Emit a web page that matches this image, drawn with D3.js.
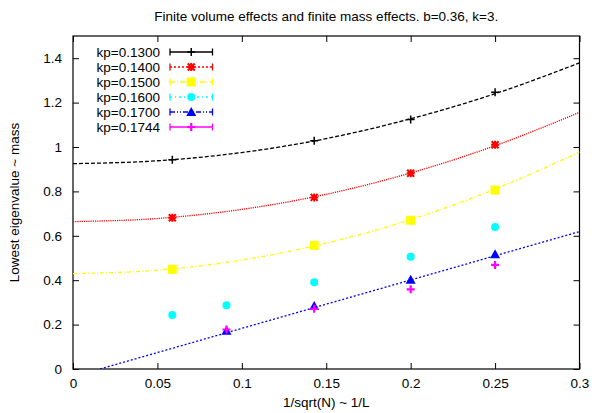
<!DOCTYPE html>
<html>
<head>
<meta charset="utf-8">
<script src="https://cdn.jsdelivr.net/npm/d3@7"></script>
<style>
  html, body { margin: 0; padding: 0; background: #fff; }
  svg { display: block; font-family: "Liberation Sans", Arial, sans-serif; }
</style>
</head>
<body>
<svg id="chart" width="592" height="413"></svg>
<script>
// ---- data ----
const titleText = "Finite volume effects and finite mass effects. b=0.36, k=3.";
const xLabel = "1/sqrt(N) ~ 1/L";
const yLabel = "Lowest eigenvalue ~ mass";
const xTicks = [0, 0.05, 0.1, 0.15, 0.2, 0.25, 0.3];
const xTickLabels = ["0", "0.05", "0.1", "0.15", "0.2", "0.25", "0.3"];
const yTicks = [0, 0.2, 0.4, 0.6, 0.8, 1.0, 1.2, 1.4];
const yTickLabels = ["0", "0.2", "0.4", "0.6", "0.8", "1", "1.2", "1.4"];

const seriesNames = ["kp=0.1300", "kp=0.1400", "kp=0.1500", "kp=0.1600", "kp=0.1700", "kp=0.1744"];
const seriesColors = ["#000000", "#ff0000", "#ffff00", "#00ffff", "#0000ff", "#ff00ff"];

const x130 = [1/17, 1/7, 1/5, 1/4];
const y130 = [0.943, 1.028, 1.124, 1.247];
const x140 = [1/17, 1/7, 1/5, 1/4];
const y140 = [0.681, 0.773, 0.882, 1.010];
const x150 = [1/17, 1/7, 1/5, 1/4];
const y150 = [0.449, 0.557, 0.670, 0.806];
const x160 = [1/17, 1/11, 1/7, 1/5, 1/4];
const y160 = [0.243, 0.287, 0.391, 0.506, 0.640];
const x170 = [1/11, 1/7, 1/5, 1/4];
const y170 = [0.172, 0.284, 0.402, 0.517];
const x1744 = [1/11, 1/7, 1/5, 1/4];
const y1744 = [0.178, 0.271, 0.359, 0.469];

// fit curves
const fitX = [0, 0.05, 0.1, 0.15, 0.2, 0.25, 0.3];
const fit130 = [0.925, 0.938, 0.975, 1.038, 1.127, 1.240, 1.379];
const fit140 = [0.664, 0.678, 0.719, 0.787, 0.883, 1.006, 1.156];
const fit150 = [0.430, 0.445, 0.491, 0.567, 0.673, 0.810, 0.978];
const fit170X = [0.016, 0.3];
const fit170 = [0.0, 0.619];

// ---- layout ----
const svg = d3.select("#chart");
const L = 73, R = 579.5, T = 36, B = 369;
const xs = d3.scaleLinear().domain([0, 0.3]).range([L, R]);
const ys = d3.scaleLinear().domain([0, 1.5]).range([B, T]);
const FS = 13.5;

svg.append("clipPath").attr("id", "clip").append("rect")
  .attr("x", L).attr("y", T).attr("width", R - L).attr("height", B - T);

svg.append("text").attr("x", (L + R) / 2).attr("y", 20.5).attr("text-anchor", "middle")
  .attr("font-size", FS).text(titleText);

const tickLen = 6;
const gBottom = svg.append("g").attr("transform", `translate(0,${B})`)
  .call(d3.axisBottom(xs).tickValues(xTicks).tickSize(-tickLen).tickPadding(9)
        .tickFormat((d, i) => xTickLabels[i]));
const gTop = svg.append("g").attr("transform", `translate(0,${T})`)
  .call(d3.axisTop(xs).tickValues(xTicks).tickSize(-tickLen).tickFormat(""));
const gLeft = svg.append("g").attr("transform", `translate(${L},0)`)
  .call(d3.axisLeft(ys).tickValues(yTicks).tickSize(-tickLen).tickPadding(11)
        .tickFormat((d, i) => yTickLabels[i]));
const gRight = svg.append("g").attr("transform", `translate(${R},0)`)
  .call(d3.axisRight(ys).tickValues(yTicks).tickSize(-tickLen).tickFormat(""));
[gBottom, gTop, gLeft, gRight].forEach(g => {
  g.select(".domain").remove();
  g.selectAll("line").attr("stroke", "#000").attr("stroke-width", 1);
  g.selectAll("text").attr("font-size", FS).attr("fill", "#000")
    .attr("font-family", "Liberation Sans, Arial, sans-serif");
});

svg.append("rect").attr("x", L).attr("y", T).attr("width", R - L).attr("height", B - T)
  .attr("fill", "none").attr("stroke", "#000").attr("stroke-width", 1.2);

svg.append("text").attr("x", (L + R) / 2).attr("y", 407).attr("text-anchor", "middle")
  .attr("font-size", FS).text(xLabel);
svg.append("text").attr("transform", `translate(19,${(T + B) / 2}) rotate(-90)`)
  .attr("text-anchor", "middle").attr("font-size", FS).text(yLabel);

const plot = svg.append("g").attr("clip-path", "url(#clip)");
const line = d3.line().x(d => xs(d[0])).y(d => ys(d[1])).curve(d3.curveMonotoneX);
const fits = [
  { fx: fitX, fy: fit130, color: seriesColors[0], dash: "4,2" },
  { fx: fitX, fy: fit140, color: seriesColors[1], dash: "1.2,1" },
  { fx: fitX, fy: fit150, color: seriesColors[2], dash: "4,2,1,2" },
  { fx: fit170X, fy: fit170, color: seriesColors[4], dash: "2,2" }
];
fits.forEach(f => {
  plot.append("path").datum(f.fx.map((v, i) => [v, f.fy[i]]))
    .attr("d", line).attr("fill", "none").attr("stroke", f.color)
    .attr("stroke-width", 1.3).attr("stroke-dasharray", f.dash);
});

function marker(g, type, cx, cy, color) {
  if (type === "plus") {
    g.append("path").attr("d", `M${cx-4},${cy}H${cx+4}M${cx},${cy-4}V${cy+4}`)
      .attr("stroke", color).attr("stroke-width", 1.5).attr("fill", "none");
  } else if (type === "thickplus") {
    g.append("path").attr("d", `M${cx-4},${cy}H${cx+4}M${cx},${cy-4}V${cy+4}`)
      .attr("stroke", color).attr("stroke-width", 2.2).attr("fill", "none");
  } else if (type === "star") {
    g.append("path").attr("d",
      `M${cx-4},${cy}H${cx+4}M${cx},${cy-4}V${cy+4}M${cx-3.5},${cy-3.5}L${cx+3.5},${cy+3.5}M${cx-3.5},${cy+3.5}L${cx+3.5},${cy-3.5}`)
      .attr("stroke", color).attr("stroke-width", 2).attr("fill", "none");
  } else if (type === "square") {
    g.append("rect").attr("x", cx - 4.5).attr("y", cy - 4.5).attr("width", 9).attr("height", 9)
      .attr("fill", color);
  } else if (type === "circle") {
    g.append("circle").attr("cx", cx).attr("cy", cy).attr("r", 4).attr("fill", color);
  } else if (type === "triangle") {
    g.append("path").attr("d", `M${cx},${cy-5}L${cx+5},${cy+4}L${cx-5},${cy+4}Z`).attr("fill", color);
  }
}
const markerTypes = ["plus", "star", "square", "circle", "triangle", "thickplus"];
const dataXs = [x130, x140, x150, x160, x170, x1744];
const dataYs = [y130, y140, y150, y160, y170, y1744];
const legendDash = ["", "2,2", "5,2,1,2", "2,3,1,3", "5,2,1,2,1,2", ""];

const pts = svg.append("g");
dataXs.forEach((arr, s) => {
  arr.forEach((v, i) => marker(pts, markerTypes[s], xs(v), ys(dataYs[s][i]), seriesColors[s]));
});

const leg = svg.append("g");
seriesNames.forEach((name, i) => {
  const cy = 52 + i * 15;
  leg.append("text").attr("x", 160).attr("y", cy + 4.5).attr("text-anchor", "end")
    .attr("font-size", FS).text(name);
  const c = seriesColors[i];
  leg.append("line").attr("x1", 170).attr("x2", 212.5).attr("y1", cy).attr("y2", cy)
    .attr("stroke", c).attr("stroke-width", 1.3).attr("stroke-dasharray", legendDash[i] || null);
  leg.append("line").attr("x1", 170).attr("x2", 170).attr("y1", cy - 3.5).attr("y2", cy + 3.5)
    .attr("stroke", c).attr("stroke-width", 1.3);
  leg.append("line").attr("x1", 212.5).attr("x2", 212.5).attr("y1", cy - 3.5).attr("y2", cy + 3.5)
    .attr("stroke", c).attr("stroke-width", 1.3);
  marker(leg, markerTypes[i], 191.25, cy, c);
});
</script>
</body>
</html>
